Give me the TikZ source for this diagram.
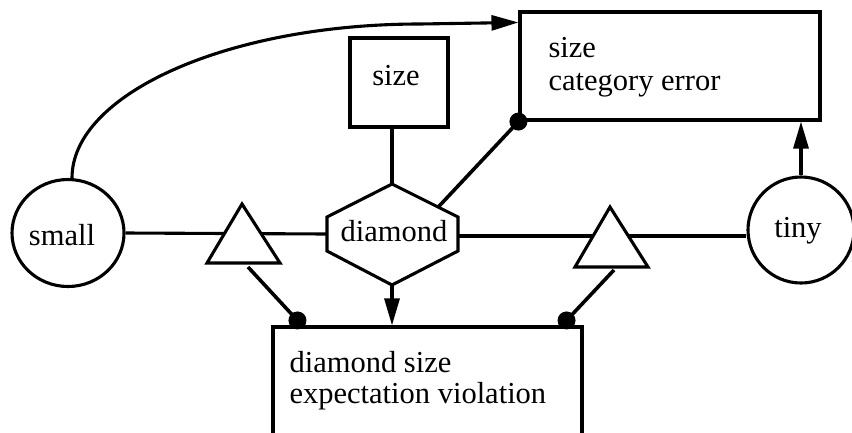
\documentclass[tikz,border=0pt]{standalone}
\usepackage{fontspec}
\setmainfont{Liberation Serif}
\usetikzlibrary{arrows.meta,shapes.geometric,calc}

\begin{document}
\begin{tikzpicture}[x=1pt,y=-1pt,line width=3.1pt,line join=miter,
  every node/.style={font=\fontsize{30.5pt}{33pt}\selectfont,inner sep=0pt},
  box/.style={draw,fill=white,rectangle},
  ring/.style={draw,fill=white,ellipse},
  tip/.style={-{Triangle[length=27pt,width=15pt]}},
  dotmark/.style={fill=black}]
\useasboundingbox (0,0) rectangle (852,432);

% boxes and circles
\node[ring,minimum width=112pt,minimum height=107pt] (small) at (68,233) {};
\node[anchor=base] (smalltxt) at (62,245) {small};
\node[ring,minimum width=106pt,minimum height=106pt] (tiny) at (801,230) {};
\node[anchor=base] (tinytxt) at (798,237) {tiny};
\node[box,minimum width=98pt,minimum height=89pt] (sizebox) at (399,82.5) {};
\node[anchor=base] (sizetxt) at (396,85) {size};
\node[box,minimum width=300pt,minimum height=108pt] (caterr) at (670,66) {};
\node[anchor=base west] (catA) at (547,57) {size};
\node[anchor=base west] (catB) at (547,90) {category error};
\node[box,minimum width=309pt,minimum height=150pt] (expviol) at (427.5,402) {};
\node[anchor=base west] (expA) at (288,372) {diamond size};
\node[anchor=base west] (expB) at (288,403) {expectation violation};

% hexagon corners
\coordinate (hexN) at (392,184);
\coordinate (hexNE) at (458,217);
\coordinate (hexSE) at (458,251);
\coordinate (hexS) at (392,285);
\coordinate (hexSW) at (327,251);
\coordinate (hexNW) at (327,217);
\coordinate (hexW) at ($(hexNW)!0.5!(hexSW)$);
\coordinate (hexE) at (458,236);
\coordinate (hexport) at ($(hexN)!0.7!(hexNE)$);

% triangle corners
\coordinate (ltA) at (242,204);
\coordinate (ltB) at (280,263);
\coordinate (ltC) at (207,263);
\coordinate (ltOut) at (248,267);
\coordinate (rtA) at (610,207);
\coordinate (rtB) at (648,267);
\coordinate (rtC) at (575,267);
\coordinate (rtOut) at (614,270);

% connector ends
\coordinate (dotL) at ($(expviol.north west)+(26,-5)$);
\coordinate (dotR) at ($(expviol.north east)+(-17,-5)$);
\coordinate (curveEnd) at ([yshift=-12pt]caterr.north west);

% horizontal links
\draw (small.east) -- (hexW);
\draw (hexE) -- (hexE -| tiny.west);
\draw (sizebox.south -| hexN) -- (hexN);

% hexagon
\draw[fill=white] (hexN) -- (hexNE) -- (hexSE) -- (hexS) -- (hexSW) -- (hexNW) -- cycle;
\node[anchor=base] (diamond) at (394,241) {diamond};

% triangles
\draw[fill=white] (ltA) -- (ltB) -- (ltC) -- cycle;
\draw[fill=white] (rtA) -- (rtB) -- (rtC) -- cycle;

% dotted links
\draw[line width=3.6pt] (hexport) -- (caterr.south west);
\fill[dotmark] (caterr.south west) circle (9pt);
\draw[line width=3.6pt] (ltOut) -- (dotL);
\fill[dotmark] (dotL) circle (9pt);
\draw[line width=3.6pt] (rtOut) -- (dotR);
\fill[dotmark] (dotR) circle (9pt);

% arrows
\draw[tip] (hexS) -- (hexS |- expviol.north);
\draw[tip] (tiny.north) -- (tiny.north |- caterr.south);
\draw[tip] ([xshift=4pt]small.north) .. controls (72,94) and (228,24) .. (420,24) -- (curveEnd);
\end{tikzpicture}
\end{document}
